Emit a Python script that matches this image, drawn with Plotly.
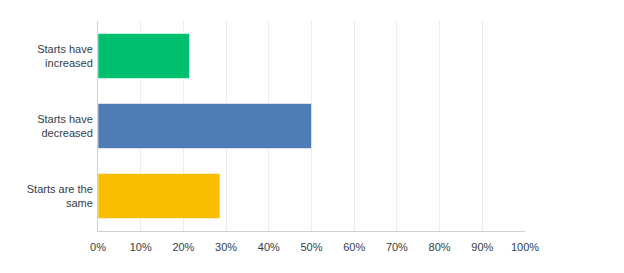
import plotly.graph_objects as go

categories = ["Starts have<br>increased", "Starts have<br>decreased", "Starts are the<br>same"]
values = [21.43, 50.00, 28.57]
colors = ["#00bf6f", "#507cb6", "#f9be00"]
x_ticks = [0, 10, 20, 30, 40, 50, 60, 70, 80, 90, 100]
x_tick_labels = [f"{v}%" for v in x_ticks]

fig = go.Figure(go.Bar(
    y=categories, x=values, orientation="h",
    marker=dict(color=colors, line=dict(color="rgba(255,255,255,0.6)", width=1)),
    hoverinfo="x+y",
))

fig.update_layout(
    width=624, height=273,
    margin=dict(l=98, r=99, t=21, b=42),
    paper_bgcolor="white", plot_bgcolor="white",
    font=dict(family="Liberation Sans, Arial, sans-serif", size=11, color="#333e48"),
    bargap=0.355,
    showlegend=False,
)
fig.update_xaxes(
    range=[0, 100], tickvals=x_ticks, ticktext=x_tick_labels,
    showgrid=True, gridcolor="#ececec", gridwidth=1,
    showline=True, linecolor="#d0d0d0", linewidth=1,
    zeroline=False, ticks="", ticklabelstandoff=6, fixedrange=True,
)
fig.update_yaxes(
    autorange="reversed",
    showgrid=False, showline=True, linecolor="#d0d0d0", linewidth=1,
    ticks="", ticklabelstandoff=2, fixedrange=True,
)

fig.write_html("out.html")
